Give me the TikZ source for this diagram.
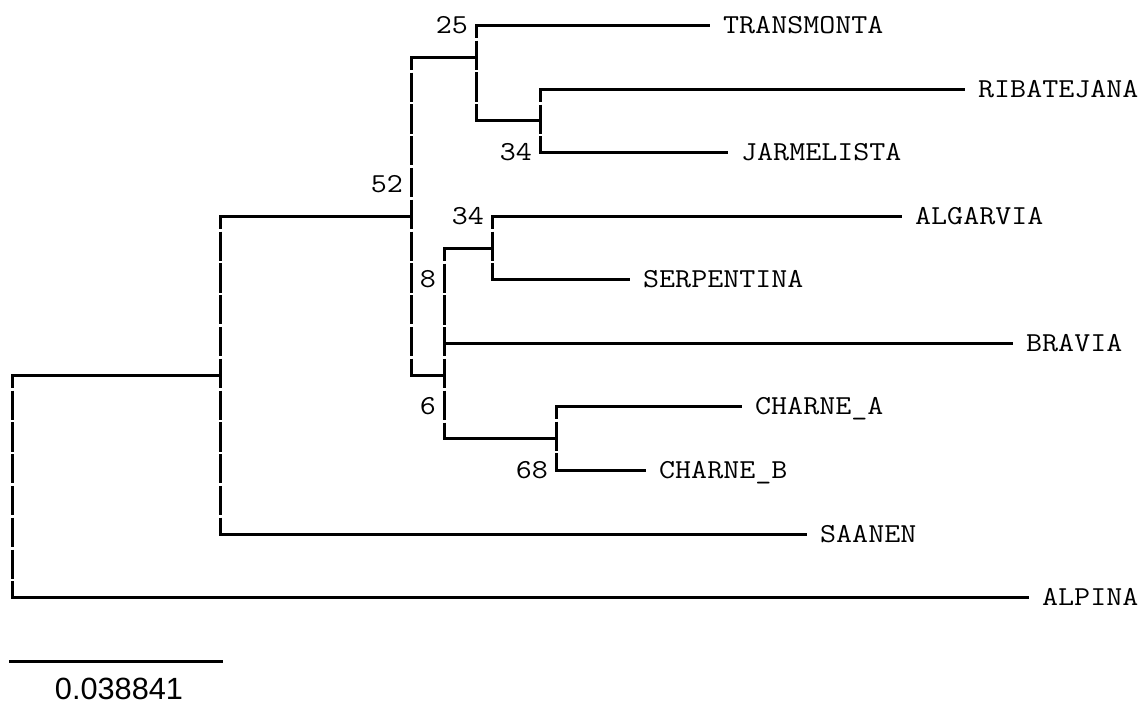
\documentclass[tikz,border=0pt]{standalone}
\usepackage{fontspec}
\newfontfamily\treefont[FakeStretch=1.135]{Latin Modern Mono}
\newfontfamily\barfont{Liberation Sans}
\begin{document}
\begin{tikzpicture}[x=1pt,y=-1pt,
  hbranch/.style={line width=3pt, line cap=rect},
  vbranch/.style={line width=3pt, dash pattern=on 29.3pt off 2.5pt, dash phase=16.3pt},
  leaf/.style={anchor=west, inner xsep=15pt, inner ysep=0pt,
    font=\treefont\fontsize{27.4}{30}\selectfont, text height=16.7pt, text depth=0pt},
  support/.style={anchor=east, inner sep=0pt,
    font=\treefont\fontsize{27.4}{30}\selectfont, text height=16.7pt, text depth=0pt},
  barlabel/.style={inner sep=0pt, font=\barfont\fontsize{30.7}{34}\selectfont,
    text height=22pt, text depth=0pt},
  scalebar/.style={line width=3pt}]

% page and margins
\fill[white] (0,0) rectangle (1146,704);
\path[use as bounding box] (0,0) rectangle (1146,704);

% leaves (west anchor = end of the branch line)
\node[leaf] (transmonta) at (708,25)   {TRANSMONTA};
\node[leaf] (ribatejana) at (963,89)   {RIBATEJANA};
\node[leaf] (jarmelista) at (726,152)  {JARMELISTA};
\node[leaf] (algarvia)   at (900,216)  {ALGARVIA};
\node[leaf] (serpentina) at (628,279)  {SERPENTINA};
\node[leaf] (bravia)     at (1011,343) {BRAVIA};
\node[leaf] (charneA)    at (740,406)  {CHARNE\_A};
\node[leaf] (charneB)    at (644,470)  {CHARNE\_B};
\node[leaf] (saanen)     at (805,534)  {SAANEN};
\node[leaf] (alpina)     at (1027,597) {ALPINA};

% internal nodes (point where the parent branch joins)
\coordinate (root) at (12,375);
\coordinate (nA)   at (220,375);
\coordinate (n52)  at (411,216);
\coordinate (n25)  at (476,57);
\coordinate (n34a) at (540,120);
\coordinate (n6)   at (444,375);
\coordinate (n34b) at (492,248);
\coordinate (n68)  at (556,438);

% bootstrap values
\node[support] (s25)  at (468,25)  {25};
\node[support] (s34a) at (532,152) {34};
\node[support] (s52)  at (403,184) {52};
\node[support] (s34b) at (484,216) {34};
\node[support] (s8)   at (436,279) {8};
\node[support] (s6)   at (436,406) {6};
\node[support] (s68)  at (548,470) {68};

% root
\draw[vbranch] (root) -- (root |- alpina.west);
\draw[hbranch] (root) -- (nA);
\draw[hbranch] (root |- alpina.west) -- (alpina.west);

% clade with Saanen
\draw[vbranch] (nA |- n52) -- (nA |- saanen.west);
\draw[hbranch] (nA |- n52) -- (n52);
\draw[hbranch] (nA |- saanen.west) -- (saanen.west);

% node 52
\draw[vbranch] (n52 |- n25) -- (n52 |- n6);
\draw[hbranch] (n52 |- n25) -- (n25);
\draw[hbranch] (n52 |- n6) -- (n6);

% node 25
\draw[vbranch] (n25 |- transmonta.west) -- (n25 |- n34a);
\draw[hbranch] (n25 |- transmonta.west) -- (transmonta.west);
\draw[hbranch] (n25 |- n34a) -- (n34a);

% node 34 (Ribatejana, Jarmelista)
\draw[vbranch] (n34a |- ribatejana.west) -- (n34a |- jarmelista.west);
\draw[hbranch] (n34a |- ribatejana.west) -- (ribatejana.west);
\draw[hbranch] (n34a |- jarmelista.west) -- (jarmelista.west);

% node 6
\draw[vbranch] (n6 |- n34b) -- (n6 |- n68);
\draw[hbranch] (n6 |- n34b) -- (n34b);
\draw[hbranch] (n6 |- bravia.west) -- (bravia.west);
\draw[hbranch] (n6 |- n68) -- (n68);

% node 34 (Algarvia, Serpentina)
\draw[vbranch] (n34b |- algarvia.west) -- (n34b |- serpentina.west);
\draw[hbranch] (n34b |- algarvia.west) -- (algarvia.west);
\draw[hbranch] (n34b |- serpentina.west) -- (serpentina.west);

% node 68
\draw[vbranch] (n68 |- charneA.west) -- (n68 |- charneB.west);
\draw[hbranch] (n68 |- charneA.west) -- (charneA.west);
\draw[hbranch] (n68 |- charneB.west) -- (charneB.west);

% scale bar
\coordinate (sb0) at (9,661);
\coordinate (sb1) at (223,661);
\draw[scalebar] (sb0) -- (sb1);
\node[barlabel] (sblabel) at (119,688.5) {0.038841};
\end{tikzpicture}
\end{document}
